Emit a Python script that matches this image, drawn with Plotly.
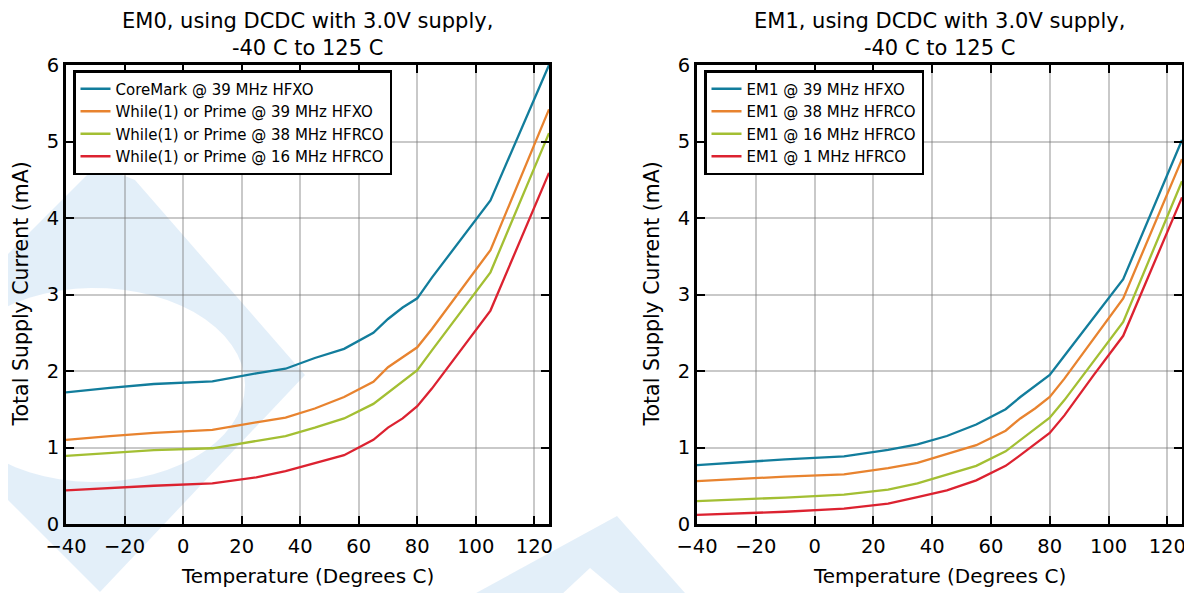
import numpy as np
import plotly.graph_objects as go

# ---------------- data ----------------
temps = [-40, -25, -10, 10, 25, 35, 45, 55, 65, 70, 75, 80, 85, 95, 105, 125]

em0_names = ["CoreMark @ 39 MHz HFXO", "While(1) or Prime @ 39 MHz HFXO",
             "While(1) or Prime @ 38 MHz HFRCO", "While(1) or Prime @ 16 MHz HFRCO"]
em0_coremark_39 = [1.72, 1.78, 1.83, 1.865, 1.97, 2.03, 2.17, 2.29, 2.50, 2.68, 2.83, 2.95, 3.22, 3.72, 4.23, 6.0]
em0_prime_39 = [1.10, 1.15, 1.19, 1.23, 1.33, 1.39, 1.51, 1.66, 1.86, 2.05, 2.18, 2.31, 2.55, 3.06, 3.58, 5.42]
em0_prime_38 = [0.89, 0.93, 0.965, 0.99, 1.08, 1.15, 1.26, 1.38, 1.57, 1.72, 1.86, 2.01, 2.27, 2.78, 3.29, 5.11]
em0_prime_16 = [0.44, 0.47, 0.50, 0.53, 0.61, 0.69, 0.79, 0.90, 1.10, 1.26, 1.38, 1.54, 1.77, 2.28, 2.79, 4.59]

em1_names = ["EM1 @ 39 MHz HFXO", "EM1 @ 38 MHz HFRCO", "EM1 @ 16 MHz HFRCO", "EM1 @ 1 MHz HFRCO"]
em1_39 = [0.77, 0.81, 0.845, 0.885, 0.97, 1.04, 1.15, 1.30, 1.50, 1.66, 1.81, 1.95, 2.20, 2.70, 3.20, 5.02]
em1_38 = [0.56, 0.59, 0.62, 0.65, 0.73, 0.80, 0.91, 1.03, 1.22, 1.38, 1.51, 1.66, 1.90, 2.42, 2.95, 4.77]
em1_16 = [0.30, 0.32, 0.345, 0.385, 0.45, 0.53, 0.64, 0.76, 0.95, 1.10, 1.24, 1.39, 1.62, 2.13, 2.64, 4.48]
em1_1 = [0.12, 0.14, 0.16, 0.20, 0.265, 0.35, 0.44, 0.57, 0.76, 0.90, 1.04, 1.19, 1.42, 1.95, 2.46, 4.27]

titles = ["EM0, using DCDC with 3.0V supply,<br>-40 C to 125 C",
          "EM1, using DCDC with 3.0V supply,<br>-40 C to 125 C"]
x_title = "Temperature (Degrees C)"
y_title = "Total Supply Current (mA)"

colors = ["#127d9c", "#e8832f", "#a3bf33", "#dc2230"]

# ---------------- figure ----------------
W, H = 1192, 593
FONT = "DejaVu Sans"
OFF = 8  # page body margin; layout positions below are given in screen pixels


def fx(x):
    return (x - OFF) / W


def fy(y):
    return 1 - (y - OFF) / H


fig = go.Figure()

em0_series = [em0_coremark_39, em0_prime_39, em0_prime_38, em0_prime_16]
em1_series = [em1_39, em1_38, em1_16, em1_1]

for name, ys, c in zip(em0_names, em0_series, colors):
    fig.add_trace(go.Scatter(x=temps, y=ys, mode="lines", name=name,
                             line=dict(color=c, width=2.3), legend="legend",
                             xaxis="x", yaxis="y"))
for name, ys, c in zip(em1_names, em1_series, colors):
    fig.add_trace(go.Scatter(x=temps, y=ys, mode="lines", name=name,
                             line=dict(color=c, width=2.3), legend="legend2",
                             xaxis="x2", yaxis="y2"))

L1 = (66, 549)
L2 = (697, 1182)
YT, YB = 65, 524

axis_common = dict(
    automargin=False,
    showline=True, linecolor="black", linewidth=3, mirror="ticks",
    ticks="inside", ticklen=8, tickwidth=2, tickcolor="black",
    showgrid=True, gridcolor="rgba(120,120,120,0.4)", gridwidth=2,
    zeroline=False, tickfont=dict(family=FONT, size=19.5, color="black"),
)
xa = dict(range=[-40, 125], tick0=0, dtick=20, ticklabelstandoff=3, **axis_common)
ya = dict(range=[0, 6], tick0=0, dtick=1, **axis_common)

legend_common = dict(xanchor="left", yanchor="top",
                     bgcolor="white", bordercolor="black", borderwidth=2.5,
                     font=dict(family=FONT, size=15, color="black"),
                     tracegroupgap=0, itemwidth=30)

fig.update_layout(
    width=W, height=H,
    margin=dict(l=0, r=0, t=0, b=0, autoexpand=False),
    paper_bgcolor="white", plot_bgcolor="rgba(0,0,0,0)",
    font=dict(family=FONT, color="black"),
    xaxis=dict(domain=[fx(L1[0]), fx(L1[1])], anchor="y", **xa),
    yaxis=dict(domain=[fy(YB), fy(YT)], anchor="x", **ya),
    xaxis2=dict(domain=[fx(L2[0]), fx(L2[1])], anchor="y2", **xa),
    yaxis2=dict(domain=[fy(YB), fy(YT)], anchor="x2", **ya),
    legend=dict(x=fx(73), y=fy(70), **legend_common),
    legend2=dict(x=fx(704), y=fy(70), **legend_common),
    showlegend=True,
)

# titles and axis titles as annotations
ann = []
for (l, r), t in zip([L1, L2], titles):
    cx = fx((l + r) / 2)
    ann.append(dict(text=t, x=cx, y=fy(35), xref="paper", yref="paper",
                    xanchor="center", yanchor="middle", showarrow=False,
                    font=dict(family=FONT, size=21, color="black")))
    ann.append(dict(text=x_title, x=cx, y=fy(576), xref="paper", yref="paper",
                    xanchor="center", yanchor="middle", showarrow=False,
                    font=dict(family=FONT, size=20, color="black")))
for xc in [20, 651]:
    ann.append(dict(text=y_title, x=fx(xc), y=fy((YT + YB) / 2),
                    xref="paper", yref="paper", textangle=-90,
                    xanchor="center", yanchor="middle", showarrow=False,
                    font=dict(family=FONT, size=20.5, color="black")))
fig.update_layout(annotations=ann)


# faint background watermark (decorative)
def path_from(points):
    s = ""
    for i, (x, y) in enumerate(points):
        s += ("M" if i == 0 else "L") + f"{fx(x):.5f},{fy(y):.5f} "
    return s + "Z "


outer = [(-100, 362), (97, 165), (135, 180), (305, 375), (100, 592), (-100, 392)]
th = np.linspace(0, 2 * np.pi, 60)[::-1]
hole = [(95 + 150 * np.cos(t), 385 + 97 * np.sin(t)) for t in th]
wm_color = "rgba(0,110,200,0.11)"
fig.add_shape(type="path", path=path_from(outer) + path_from(hole), xref="paper", yref="paper",
              fillcolor=wm_color, line=dict(width=0), layer="below")
low = [(445, 610), (617, 516), (700, 610), (640, 610), (590, 568), (545, 610)]
fig.add_shape(type="path", path=path_from(low), xref="paper", yref="paper",
              fillcolor=wm_color, line=dict(width=0), layer="below")

fig.write_html("out.html")
